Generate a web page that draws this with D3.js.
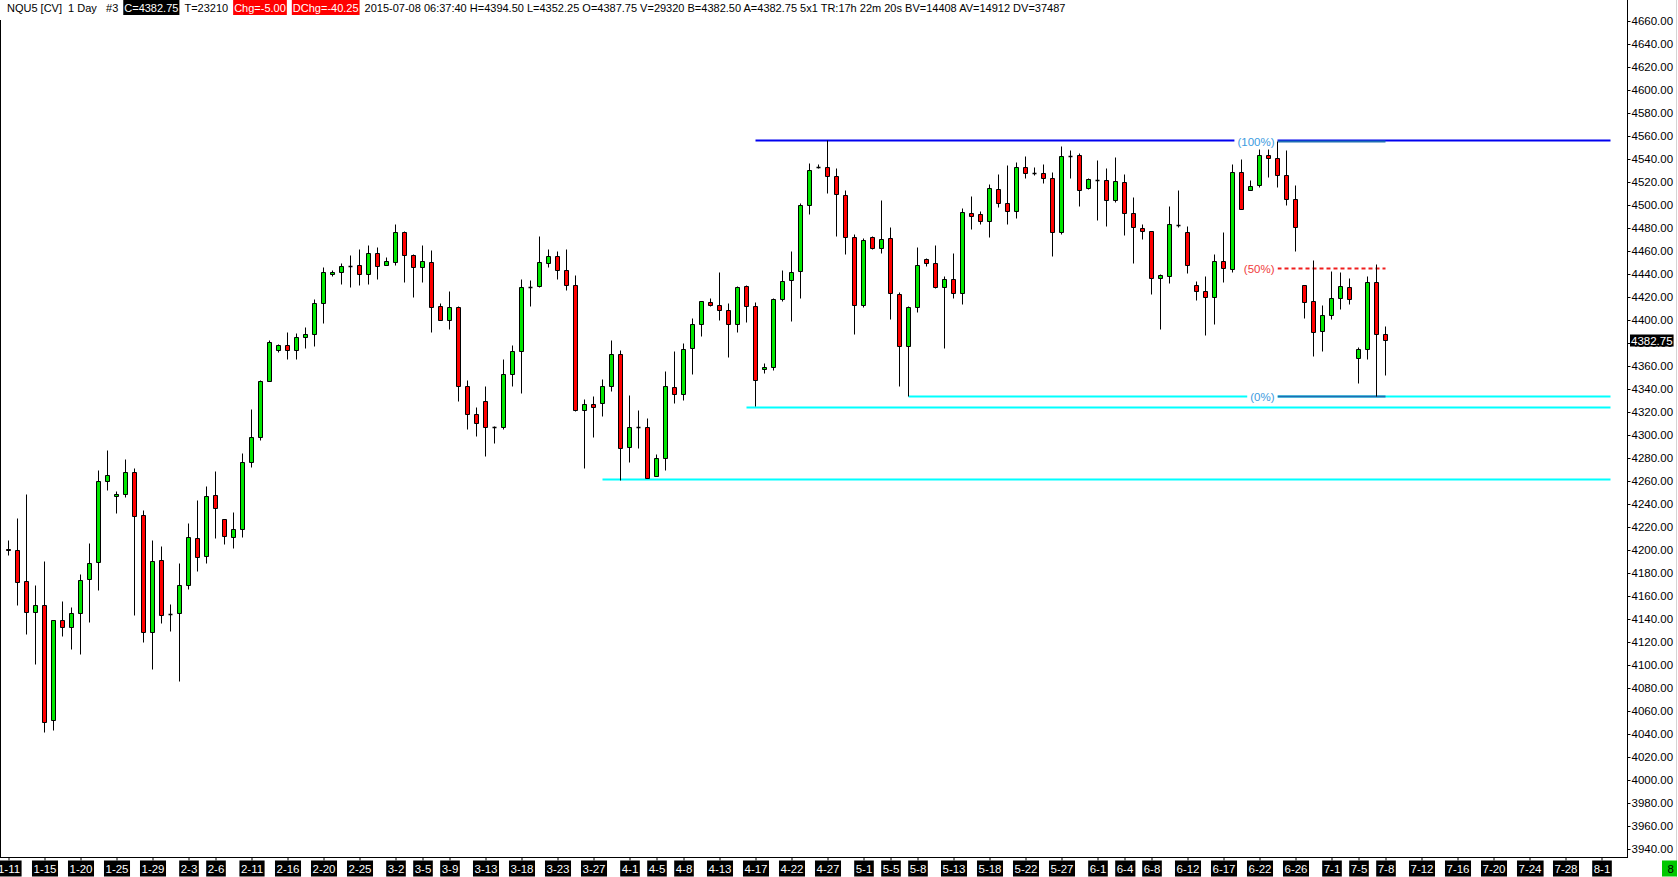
<!DOCTYPE html>
<html>
<head>
<meta charset="utf-8">
<style>
  body { margin: 0; background: #fff; }
  svg { display: block; }
  text { font-family: 'Liberation Sans', Arial, sans-serif; }
</style>
</head>
<body>
<div id="chart"></div>
<script src="https://cdn.jsdelivr.net/npm/d3@7"></script>
<script>
// session dates (Sunday evening sessions included)
let dates = [
  '1-11', '1-12', '1-13', '1-14', '1-15', '1-16',
  '1-18', '1-19', '1-20', '1-21', '1-22', '1-23',
  '1-25', '1-26', '1-27', '1-28', '1-29', '1-30',
  '2-1', '2-2', '2-3', '2-4', '2-5', '2-6',
  '2-8', '2-9', '2-10', '2-11', '2-12', '2-13',
  '2-15', '2-16', '2-17', '2-18', '2-19', '2-20',
  '2-22', '2-23', '2-24', '2-25', '2-26', '2-27',
  '3-1', '3-2', '3-3', '3-4', '3-5', '3-6',
  '3-8', '3-9', '3-10', '3-11', '3-12', '3-13',
  '3-15', '3-16', '3-17', '3-18', '3-19', '3-20',
  '3-22', '3-23', '3-24', '3-25', '3-26', '3-27',
  '3-29', '3-30', '3-31', '4-1', '4-2', '4-3',
  '4-5', '4-6', '4-7', '4-8', '4-9', '4-10',
  '4-12', '4-13', '4-14', '4-15', '4-16', '4-17',
  '4-19', '4-20', '4-21', '4-22', '4-23', '4-24',
  '4-26', '4-27', '4-28', '4-29', '4-30', '5-1',
  '5-3', '5-4', '5-5', '5-6', '5-7', '5-8',
  '5-10', '5-11', '5-12', '5-13', '5-14', '5-15',
  '5-17', '5-18', '5-19', '5-20', '5-21', '5-22',
  '5-24', '5-25', '5-26', '5-27', '5-28', '5-29',
  '5-31', '6-1', '6-2', '6-3', '6-4', '6-5',
  '6-7', '6-8', '6-9', '6-10', '6-11', '6-12',
  '6-14', '6-15', '6-16', '6-17', '6-18', '6-19',
  '6-21', '6-22', '6-23', '6-24', '6-25', '6-26',
  '6-28', '6-29', '6-30', '7-1', '7-2', '7-3',
  '7-5', '7-6', '7-7', '7-8'
]

// open, high, low, close
let ohlc = [
  [4201, 4208.5, 4195.75, 4199.5], [4199.5, 4227.5, 4151.5, 4172.25], [4172.5, 4248.5, 4127, 4146],
  [4146, 4169.25, 4101, 4151.5], [4151.5, 4190.25, 4041.75, 4050.5], [4051.5, 4138.5, 4043.5, 4138.5],
  [4138.5, 4155.5, 4125.25, 4132.5], [4132.5, 4150.25, 4114, 4144.75], [4144.75, 4179, 4109.5, 4173.5],
  [4174.25, 4205.75, 4137.5, 4188.25], [4189, 4269.25, 4165.25, 4259.5], [4259.5, 4286.75, 4251.5, 4264.75],
  [4246.5, 4251, 4232.25, 4248.25], [4248.25, 4279, 4246, 4267.25], [4267.25, 4270.75, 4143.5, 4229],
  [4230, 4234.5, 4120, 4128.25], [4128.25, 4208.5, 4096.5, 4190], [4190.75, 4203.25, 4136.5, 4143],
  [4143.75, 4152.75, 4129.5, 4143.75], [4144.75, 4188.25, 4086, 4169], [4169, 4223.25, 4166, 4210.75],
  [4210, 4243.25, 4181.75, 4193.5], [4194.25, 4255.5, 4188.75, 4246.5], [4247.25, 4268.5, 4210.5, 4236],
  [4226.5, 4226.5, 4205.25, 4211.5], [4210.75, 4232.5, 4201.75, 4217.75], [4217.75, 4283.75, 4211.25, 4276],
  [4276, 4322.5, 4271.5, 4297.75], [4297.75, 4347.25, 4295, 4346.5], [4346.5, 4382, 4346.5, 4380.25],
  [4373.5, 4378.5, 4371.5, 4377.75], [4377.75, 4389, 4365.5, 4373.5], [4373.5, 4388.5, 4365.5, 4384.75],
  [4384.75, 4393.75, 4375, 4387.25], [4387.25, 4418, 4377, 4414.25], [4414.25, 4445.75, 4397, 4441.25],
  [4439.75, 4443, 4438.25, 4441.25], [4441.25, 4449.25, 4430.75, 4446.5], [4447, 4456.25, 4428.25, 4447],
  [4447.25, 4461.5, 4430, 4439.5], [4439.5, 4465, 4431.25, 4457.75], [4457.75, 4463.25, 4435.75, 4446.5],
  [4447.25, 4454.25, 4447.25, 4450.75], [4450, 4483.25, 4447.25, 4476], [4476, 4477, 4433, 4456],
  [4456, 4457, 4420, 4445.5], [4445.5, 4464.75, 4433, 4450.75], [4450, 4460.25, 4389.5, 4410.75],
  [4411.5, 4414.25, 4399.5, 4399.5], [4399.5, 4424.75, 4392.25, 4410.75], [4410.75, 4411.5, 4329.5, 4342],
  [4342, 4347.25, 4305.25, 4317.75], [4317.75, 4323.75, 4299.25, 4310], [4329, 4342, 4281.75, 4306.5],
  [4307, 4308, 4293, 4307], [4307, 4365.5, 4305.25, 4352.5], [4352.5, 4377.75, 4342.75, 4372.5],
  [4372.5, 4435, 4336.5, 4428.25], [4428.75, 4434.25, 4412.25, 4428.75], [4429, 4472.5, 4428.25, 4450],
  [4449, 4461.25, 4445.5, 4455], [4455, 4459.5, 4435.75, 4443], [4443, 4461.25, 4425.5, 4430],
  [4430, 4438.5, 4320.25, 4321.25], [4321.25, 4330.75, 4270.75, 4326.5], [4326.5, 4333.5, 4298.25, 4323.75],
  [4327.25, 4348.25, 4316.5, 4342], [4342, 4382, 4337.75, 4370], [4370, 4373.75, 4260.75, 4288.25],
  [4289.5, 4334.5, 4276.5, 4306.5], [4307, 4321.5, 4288.75, 4307], [4306.5, 4314.5, 4262.75, 4262.75],
  [4264.5, 4283.25, 4264.5, 4279.5], [4279.5, 4355.5, 4269.5, 4342], [4341.25, 4373, 4328, 4335],
  [4335.75, 4379.5, 4330.5, 4374.25], [4375, 4401.25, 4353, 4396], [4396, 4416, 4386.25, 4416],
  [4415, 4418.5, 4411.5, 4412.5], [4412.5, 4441.25, 4400, 4408.25], [4408.25, 4414.25, 4368, 4396],
  [4396, 4429, 4389.5, 4428.25], [4429, 4430.25, 4398.25, 4411.5], [4411.5, 4415, 4324.75, 4347.25],
  [4357, 4362, 4353.5, 4359.25], [4359.25, 4418.5, 4356, 4417.75], [4417.75, 4443, 4416, 4433.5],
  [4434.25, 4459.5, 4399.25, 4441.25], [4442, 4501.25, 4418.5, 4499.5], [4499.5, 4536, 4491.75, 4530],
  [4533, 4535, 4531.75, 4533], [4532.5, 4556.25, 4510, 4524.75], [4524.75, 4531.75, 4472.5, 4509],
  [4508.25, 4512.5, 4457, 4471.75], [4471.75, 4474.25, 4387.25, 4412.5], [4412.5, 4470.75, 4410.75, 4469],
  [4471.75, 4472.5, 4461.25, 4462], [4462, 4503.75, 4457.75, 4470], [4470.75, 4480.5, 4400.5, 4423],
  [4422, 4423.75, 4342, 4377], [4377, 4411.5, 4334, 4410.75], [4410.75, 4463, 4406.5, 4447.25],
  [4452.5, 4453.5, 4446.5, 4449], [4449, 4464.75, 4427.25, 4428.25], [4428.25, 4437.75, 4375, 4435],
  [4435, 4457.75, 4418.5, 4423], [4423, 4497, 4413.5, 4493.5], [4492.5, 4507.25, 4478.5, 4490],
  [4491.75, 4494.25, 4483, 4485.5], [4485.5, 4517.75, 4471.75, 4514.25], [4513.5, 4526.5, 4497.75, 4501.25],
  [4501.25, 4534.25, 4483, 4494.25], [4494.25, 4537, 4488.75, 4532.5], [4532.5, 4542, 4523, 4527.25],
  [4527.25, 4532.5, 4525.5, 4527.25], [4527.25, 4535, 4518.5, 4523], [4523, 4528.25, 4455.75, 4476],
  [4476, 4550.75, 4474.25, 4542], [4542.75, 4547.25, 4523, 4542.75], [4543, 4544.75, 4498.5, 4512.5],
  [4514.25, 4523, 4513.5, 4522], [4521.75, 4539, 4487, 4521.75], [4521.25, 4532, 4481.75, 4503.75],
  [4503.75, 4541.5, 4502, 4520.5], [4519.5, 4526.75, 4474, 4492.5], [4492.5, 4506.5, 4449.5, 4480.5],
  [4479.5, 4483, 4470, 4477], [4477, 4477, 4422.75, 4436], [4436, 4439.5, 4391.5, 4438.5],
  [4437.75, 4498.5, 4431.5, 4483], [4482.75, 4512.5, 4480.5, 4482.75], [4476, 4481.25, 4441, 4447.25],
  [4430, 4433.5, 4417.5, 4424.75], [4424.75, 4438, 4387, 4419.5], [4419.5, 4457, 4396.5, 4450.75],
  [4450.75, 4476.25, 4433, 4444.75], [4443.75, 4535, 4441.25, 4528.25], [4528.25, 4539.75, 4496, 4496],
  [4512.5, 4521.25, 4512.5, 4516], [4517, 4548.5, 4515, 4543], [4543, 4548.25, 4523.75, 4540.5],
  [4540.5, 4555.5, 4515, 4525.5], [4525.5, 4547.5, 4499.5, 4504.75], [4504.75, 4517, 4460, 4480.5],
  [4430, 4430, 4401.25, 4415], [4416, 4452, 4368.75, 4389], [4390, 4412.5, 4373, 4403.75],
  [4403.75, 4442, 4400.5, 4418.5], [4418.5, 4441.25, 4409, 4429], [4428.25, 4436, 4413.5, 4417.75],
  [4366.5, 4376, 4344.75, 4374.25], [4374.25, 4437.75, 4365.5, 4432.5], [4432.5, 4448.25, 4334, 4387.75],
  [4387.75, 4394.5, 4352.25, 4382.75]
]

// empty space to the right of the last bar
let futureDates = [
  '7-9', '7-10', '7-11', '7-12', '7-13', '7-14', '7-15', '7-16', '7-17', '7-18', '7-19', '7-20',
  '7-21', '7-22', '7-23', '7-24', '7-25', '7-26', '7-27', '7-28', '7-29', '7-30', '7-31',
  '8-1', '8-2', '8-3', '8-4'
]

let tickLabels = [
  '1-11', '1-15', '1-20', '1-25', '1-29', '2-3', '2-6', '2-11', '2-16', '2-20', '2-25',
  '3-2', '3-5', '3-9', '3-13', '3-18', '3-23', '3-27', '4-1', '4-5', '4-8', '4-13', '4-17',
  '4-22', '4-27', '5-1', '5-5', '5-8', '5-13', '5-18', '5-22', '5-27', '6-1', '6-4', '6-8',
  '6-12', '6-17', '6-22', '6-26', '7-1', '7-5', '7-8', '7-12', '7-16', '7-20', '7-24', '7-28', '8-1'
]

let priceTicks = d3.range(3940, 4661, 20)

// drawn levels
let resistanceLevel = 4556.25
let resistanceStart = '4-17'
let supportLevels = [4261.75, 4324.5, 4334]
let supportStarts = ['3-29', '4-16', '5-7']
let levelsEnd = '8-2'

// fibonacci retracement
let fibFrom = '6-24'
let fibTo = '7-8'
let fibHigh = 4555.5
let fibLow = 4334
let fibRatios = [1, 0.5, 0]

let headerParts = [
  'NQU5 [CV]  1 Day   #3',
  'C=4382.75',
  'T=23210',
  'Chg=-5.00',
  'DChg=-40.25',
  '2015-07-08 06:37:40 H=4394.50 L=4352.25 O=4387.75 V=29320 B=4382.50 A=4382.75 5x1 TR:17h 22m 20s BV=14408 AV=14912 DV=37487'
]
let lastPrice = 4382.75
let cursorLabel = '8'

let width = 1678
let height = 877
let plotRight = 1627
let plotBottom = 857
let labelSize = 11.5

let svg = d3
  .select('#chart')
  .append('svg')
  .attr('width', width)
  .attr('height', height)

svg.append('rect').attr('width', width).attr('height', height).attr('fill', '#fff')

let allDates = dates.concat(futureDates)
let x = d3
  .scalePoint()
  .domain(allDates)
  .range([8.5, 8.5 + 9 * (allDates.length - 1)])

let y = d3.scaleLinear().domain([3940, 4660]).range([848.7, 20.7])
let py = p => Math.round(y(p)) + 0.5

svg
  .append('clipPath')
  .attr('id', 'plot-clip')
  .append('rect')
  .attr('width', plotRight)
  .attr('height', plotBottom)

let plot = svg.append('g').attr('clip-path', 'url(#plot-clip)')

// horizontal levels
supportLevels.forEach((level, i) => {
  plot
    .append('line')
    .attr('x1', x(supportStarts[i]))
    .attr('x2', x(levelsEnd))
    .attr('y1', py(level))
    .attr('y2', py(level))
    .attr('stroke', '#00ffff')
    .attr('stroke-width', 2)
})

plot
  .append('line')
  .attr('x1', x(resistanceStart))
  .attr('x2', x(levelsEnd))
  .attr('y1', py(resistanceLevel))
  .attr('y2', py(resistanceLevel))
  .attr('stroke', '#0000f0')
  .attr('stroke-width', 2)

// fib levels
let fib = plot.append('g').attr('class', 'fib')
fibRatios.forEach(r => {
  let level = fibLow + (fibHigh - fibLow) * r
  let isMid = r === 0.5
  fib
    .append('line')
    .attr('x1', x(fibFrom))
    .attr('x2', x(fibTo))
    .attr('y1', py(level))
    .attr('y2', py(level))
    .attr('stroke', isMid ? '#f01e1e' : '#1e6eb4')
    .attr('stroke-width', 2)
    .attr('stroke-dasharray', isMid ? '4,3' : null)

  let label = fib
    .append('text')
    .attr('x', x(fibFrom) - 3)
    .attr('y', py(level) + 4.5)
    .attr('text-anchor', 'end')
    .attr('font-size', labelSize)
    .attr('fill', isMid ? '#f03c3c' : '#3c9be0')
    .text('(' + Math.round(r * 100) + '%)')

  let box = label.node().getBBox()
  fib
    .insert('rect', () => label.node())
    .attr('x', box.x - 3)
    .attr('y', py(level) - 5)
    .attr('width', x(fibFrom) - box.x + 3)
    .attr('height', 10)
    .attr('fill', '#fff')
})

// candles
let bars = ohlc.map((d, i) => ({ date: dates[i], o: d[0], h: d[1], l: d[2], c: d[3] }))

let candle = plot
  .selectAll('.candle')
  .data(bars)
  .enter()
  .append('g')
  .attr('class', 'candle')

candle
  .append('line')
  .attr('x1', d => x(d.date))
  .attr('x2', d => x(d.date))
  .attr('y1', d => py(d.h))
  .attr('y2', d => py(d.l))
  .attr('stroke', '#000')
  .attr('stroke-width', 1)

candle
  .append('path')
  .attr('d', d => {
    let cx = x(d.date)
    let top = py(Math.max(d.o, d.c))
    let bottom = py(Math.min(d.o, d.c))
    return `M${cx - 2},${top}H${cx + 2}V${bottom}H${cx - 2}Z`
  })
  .attr('fill', d => {
    if (d.c > d.o) {
      return '#00e600'
    } else if (d.c < d.o) {
      return '#ff0000'
    } else {
      return 'none'
    }
  })
  .attr('stroke', '#000')
  .attr('stroke-width', d => (d.c === d.o ? 1.5 : 1))

// frame
svg
  .append('line')
  .attr('x1', 0.5)
  .attr('x2', 0.5)
  .attr('y1', 20)
  .attr('y2', plotBottom)
  .attr('stroke', '#000')

svg
  .append('line')
  .attr('x1', 0)
  .attr('x2', plotRight)
  .attr('y1', plotBottom + 0.5)
  .attr('y2', plotBottom + 0.5)
  .attr('stroke', '#000')

svg
  .append('line')
  .attr('x1', plotRight + 0.5)
  .attr('x2', plotRight + 0.5)
  .attr('y1', 0)
  .attr('y2', plotBottom + 1)
  .attr('stroke', '#000')

svg
  .append('line')
  .attr('x1', width - 1.5)
  .attr('x2', width - 1.5)
  .attr('y1', 0)
  .attr('y2', height)
  .attr('stroke', '#d4d4d4')

// price axis
let yAxis = svg
  .append('g')
  .attr('transform', `translate(${plotRight + 0.5},0)`)
  .call(
    d3
      .axisRight(y)
      .tickValues(priceTicks)
      .tickFormat(d3.format('.2f'))
      .tickSize(3)
      .tickPadding(1)
  )

yAxis.select('.domain').remove()
yAxis.selectAll('.tick').attr('transform', d => `translate(0,${py(d)})`)
yAxis
  .selectAll('text')
  .attr('font-family', null)
  .attr('font-size', labelSize)
  .attr('fill', '#000')

// last price marker
let last = svg.append('g')
let lastText = last
  .append('text')
  .attr('x', plotRight + 4)
  .attr('y', py(lastPrice) + 4)
  .attr('font-size', labelSize)
  .attr('fill', '#fff')
  .text(d3.format('.2f')(lastPrice))
let lastBox = lastText.node().getBBox()
last
  .insert('rect', () => lastText.node())
  .attr('x', lastBox.x - 1)
  .attr('y', py(lastPrice) - 6)
  .attr('width', lastBox.width + 2)
  .attr('height', 12)
  .attr('fill', '#000')

// date axis
let xAxis = svg
  .append('g')
  .attr('transform', `translate(0,${plotBottom + 0.5})`)
  .call(d3.axisBottom(x).tickValues(tickLabels).tickSize(3))

xAxis.select('.domain').remove()
xAxis
  .selectAll('.tick text')
  .attr('font-family', null)
  .attr('font-size', labelSize)
  .attr('fill', '#fff')
  .attr('y', 15)
  .attr('dy', 0)

xAxis.selectAll('.tick').each(function () {
  let t = d3.select(this).select('text')
  let b = t.node().getBBox()
  d3.select(this)
    .insert('rect', 'text')
    .attr('x', b.x - 1.5)
    .attr('y', 3)
    .attr('width', b.width + 3)
    .attr('height', 16)
    .attr('fill', '#000')
})

// cursor box bottom right
let cursorText = svg
  .append('text')
  .attr('x', width - 4)
  .attr('y', plotBottom + 15.5)
  .attr('text-anchor', 'end')
  .attr('font-size', labelSize)
  .attr('fill', '#000')
  .text(cursorLabel)
svg
  .insert('rect', () => cursorText.node())
  .attr('x', width - 16)
  .attr('y', plotBottom + 3.5)
  .attr('width', 15)
  .attr('height', 16)
  .attr('fill', '#00c800')

// header line
let headerFill = [null, '#000', null, '#ff0000', '#ff0000', null]
let header = svg.append('g').attr('class', 'header')
let cursor = 7
headerParts.forEach((part, i) => {
  let boxed = headerFill[i] !== null
  let text = header
    .append('text')
    .attr('x', cursor + (boxed ? 1 : 0))
    .attr('y', 12)
    .attr('font-size', 11)
    .attr('fill', boxed ? '#fff' : '#000')
    .style('white-space', 'pre')
    .text(part)
  let w = text.node().getComputedTextLength()
  if (boxed) {
    header
      .insert('rect', () => text.node())
      .attr('x', cursor)
      .attr('y', 0)
      .attr('width', w + 2)
      .attr('height', 15)
      .attr('fill', headerFill[i])
  }
  cursor += w + (boxed ? 2 : 0) + 5
})
</script>
</body>
</html>
